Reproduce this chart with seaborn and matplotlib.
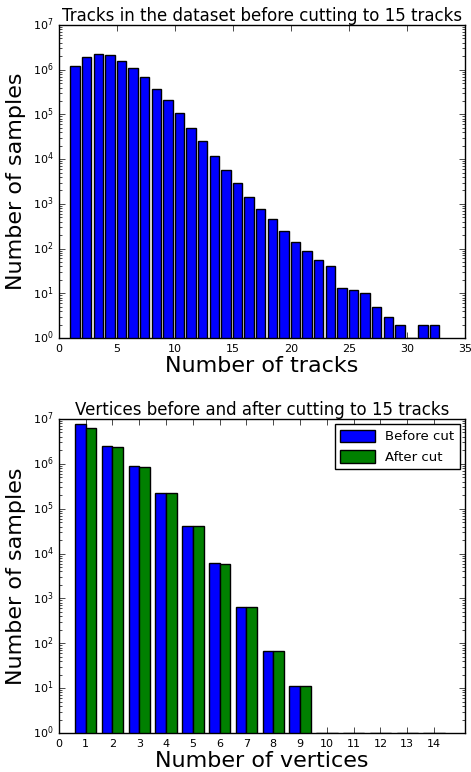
import numpy as np
import pandas as pd
import matplotlib
matplotlib.use('Agg')
import matplotlib.pyplot as plt
import seaborn as sns

# data
n_tracks = list(range(1, 33))
track_counts = [1.2e6, 1.95e6, 2.3e6, 2.15e6, 1.6e6, 1.1e6, 6.7e5, 3.8e5, 2.07e5, 1.05e5,
                5.1e4, 2.5e4, 1.17e4, 5.7e3, 2.9e3, 1.4e3, 780, 450, 250, 138,
                87, 56, 40, 13, 12, 10, 5, 3, 2, 1, 2, 2]

n_vertices = list(range(1, 15))
before_cut = [7.85e6, 2.54e6, 8.9e5, 2.23e5, 4.2e4, 6.1e3, 660, 67, 11, 1, 1, 1, 1, 1]
after_cut = [6.4e6, 2.37e6, 8.7e5, 2.23e5, 4.2e4, 6.0e3, 650, 67, 11, 1, 1, 1, 1, 1]
groups = ['Before cut', 'After cut']

# style
plt.style.use('classic')
plt.rcParams['figure.facecolor'] = 'white'
plt.rcParams['savefig.facecolor'] = 'white'
plt.rcParams['font.family'] = ['DejaVu Sans']
plt.rcParams['mathtext.fontset'] = 'dejavusans'
plt.rcParams['mathtext.default'] = 'regular'

fig, (ax1, ax2) = plt.subplots(2, 1, figsize=(4.71, 7.72), dpi=100)
ax1.set_position([0.125, 0.5622, 0.862, 0.4054])
ax2.set_position([0.125, 0.0505, 0.862, 0.4068])

# 1. tracks histogram (bars left-aligned on the integer)
df_tracks = pd.DataFrame({'x': np.array(n_tracks) + 0.4, 'count': track_counts})
sns.barplot(data=df_tracks, x='x', y='count', native_scale=True, color='blue',
            saturation=1, edgecolor='black', linewidth=1, errorbar=None, ax=ax1)
ax1.set_yscale('log')
ax1.set_ylim(1, 1e7)
ax1.set_xlim(0, 35)
ax1.set_xticks(range(0, 36, 5))
ax1.set_title('Tracks in the dataset before cutting to 15 tracks', fontsize=12, pad=3)
ax1.set_xlabel('Number of tracks', fontsize=16, labelpad=2)
ax1.set_ylabel('Number of samples', fontsize=16)

# 2. vertices before / after cut
df_vert = pd.DataFrame({
    'vertices': n_vertices * 2,
    'group': [groups[0]] * len(n_vertices) + [groups[1]] * len(n_vertices),
    'count': before_cut + after_cut,
})
sns.barplot(data=df_vert, x='vertices', y='count', hue='group', hue_order=groups,
            native_scale=True, palette=['blue', '#008000'], saturation=1,
            edgecolor='black', linewidth=1, errorbar=None, ax=ax2)
ax2.set_yscale('log')
ax2.set_ylim(1, 1e7)
ax2.set_xlim(0, 15.15)
ax2.set_xticks(range(0, 15))
ax2.set_title('Vertices before and after cutting to 15 tracks', fontsize=12, pad=3)
ax2.set_xlabel('Number of vertices', fontsize=16, labelpad=2)
ax2.set_ylabel('Number of samples', fontsize=16)

leg = ax2.get_legend()
handles = leg.legend_handles
labels = [t.get_text() for t in leg.get_texts()]
ax2.legend(handles, labels, loc='upper right', fontsize=9.5, fancybox=False,
           handlelength=2.6, handleheight=1.1, borderaxespad=0.4)

for ax in (ax1, ax2):
    ax.tick_params(labelsize=8)

plt.savefig('out.png', dpi=100)
